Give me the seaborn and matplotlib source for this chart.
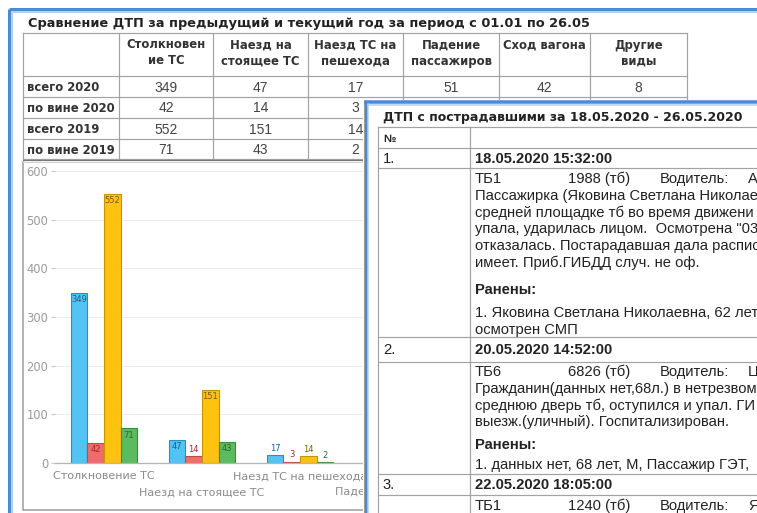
import numpy as np
import pandas as pd
import matplotlib
matplotlib.use("Agg")
import matplotlib.pyplot as plt
from matplotlib.transforms import Bbox, TransformedBbox
import seaborn as sns

# данные (то, что видно на скриншоте; закрытые окном ячейки = nan)
categories = ["Столкновение ТС", "Наезд на стоящее ТС", "Наезд ТС на пешехода",
              "Падение пассажиров", "Сход вагона", "Другие виды"]
header_labels = ["Столкновен\nие ТС", "Наезд на\nстоящее ТС", "Наезд ТС на\nпешехода",
                 "Падение\nпассажиров", "Сход вагона", "Другие\nвиды"]
series = ["всего 2020", "по вине 2020", "всего 2019", "по вине 2019"]
total_2020 = [349, 47, 17, 51, 42, 8]
fault_2020 = [42, 14, 3, np.nan, np.nan, np.nan]
total_2019 = [552, 151, 14, np.nan, np.nan, np.nan]
fault_2019 = [71, 43, 2, np.nan, np.nan, np.nan]
yticks = [0, 100, 200, 300, 400, 500, 600]

bar_colors = ["#52C3F2", "#F26B6B", "#FFC20E", "#5CBA5F"]
edge_colors = ["#2E8EC0", "#C04A4A", "#C79500", "#3A8C3E"]
label_colors = ["#1D5F8A", "#9B2D2D", "#7A5E00", "#2B6A30"]

title_left = "Сравнение ДТП за предыдущий и текущий год за период с 01.01 по 26.05"
title_right = "ДТП с пострадавшими за 18.05.2020 - 26.05.2020"

W, H = 757, 513
fig = plt.figure(figsize=(W / 100, H / 100), dpi=100)
fig.patch.set_facecolor("white")

LW = 0.72  # 1 px в пунктах
GRID = "#a3a3a3"
OV_X = 363  # левый край второго окна


def px_axes(rect_px, zorder):
    x0, y0, x1, y1 = rect_px
    a = fig.add_axes([x0 / W, 1 - y1 / H, (x1 - x0) / W, (y1 - y0) / H], zorder=zorder)
    a.set_xlim(x0, x1)
    a.set_ylim(y1, y0)
    a.set_axis_off()
    return a


# ---- окно 1: рамка, заголовок, таблица ----
bg = px_axes((0, 0, W, H), 0)
bg.plot([9, 9], [9, H], color="#4A8BD4", lw=3 * LW, solid_capstyle="butt")
bg.plot([9, W], [9, 9], color="#4A8BD4", lw=3 * LW, solid_capstyle="butt")
bg.plot([11.5, 11.5], [11.5, H], color="#B3D0EF", lw=2 * LW)
bg.plot([11.5, W], [11.5, 11.5], color="#B3D0EF", lw=2 * LW)

bg.text(28, 23, title_left, fontsize=9.3, fontweight="bold", color="#222222",
        va="center", ha="left", family="DejaVu Sans")

col_edges = [23, 119, 213, 308, 403, 499, 590, 687]
row_edges = [33, 76, 97, 118, 139, 159]
for y in row_edges:
    bg.plot([col_edges[0], col_edges[-1]], [y, y], color=GRID, lw=1.2 * LW)
bg.plot([col_edges[0], col_edges[-1]], [row_edges[-1] + 1, row_edges[-1] + 1], color="#777777", lw=1.2 * LW)
for x in col_edges:
    bg.plot([x, x], [row_edges[0], row_edges[-1]], color=GRID, lw=1.2 * LW)

for j, lab in enumerate(header_labels):
    cx = (col_edges[j + 1] + col_edges[j + 2]) / 2
    for k, line in enumerate(lab.split("\n")):
        bg.text(cx, 45 + 16 * k, line, fontsize=8.4, fontweight="bold", color="#333333",
                ha="center", va="center", family="DejaVu Sans")

table_rows = [total_2020, fault_2020, total_2019, fault_2019]
for i, (name, vals) in enumerate(zip(series, table_rows)):
    cy = (row_edges[i + 1] + row_edges[i + 2]) / 2 + 1
    bg.text(27, cy, name, fontsize=8.4, fontweight="bold", color="#333333",
            ha="left", va="center", family="DejaVu Sans")
    for j, v in enumerate(vals):
        if np.isnan(v):
            continue
        cx = (col_edges[j + 1] + col_edges[j + 2]) / 2
        bg.text(cx, cy, f"{v:.0f}", fontsize=10, color="#444444",
                ha="center", va="center", family="Liberation Sans")

# рамка блока с диаграммой
bg.plot([23, 23, 700], [162, 510, 510], color="#9a9a9a", lw=1.5 * LW)
bg.plot([23, 700], [162, 162], color="#d0d0d0", lw=1 * LW)

# ---- диаграмма ----
rows = []
for name, vals in zip(series, table_rows):
    for c, v in zip(categories, vals):
        rows.append({"вид": c, "серия": name, "кол-во": v})
df = pd.DataFrame(rows).dropna()

ax = fig.add_axes([55 / W, 1 - 463 / H, (643 - 55) / W, (463 - 171) / H], zorder=1)
ax.patch.set_alpha(0)
sns.barplot(data=df, x="вид", y="кол-во", hue="серия", order=categories, hue_order=series,
            palette=bar_colors, saturation=1, width=0.68, errorbar=None, legend=False,
            linewidth=1.1 * LW, ax=ax)

for cont, ec, lc in zip(ax.containers, edge_colors, label_colors):
    for bar in cont:
        bar.set_edgecolor(ec)
        h = bar.get_height()
        if np.isnan(h):
            continue
        inside = h >= 30
        ax.annotate(f"{h:.0f}", (bar.get_x() + bar.get_width() / 2, h),
                    xytext=(0, -1.5 if inside else 1.5), textcoords="offset points",
                    ha="center", va="top" if inside else "bottom",
                    fontsize=6, color=lc, family="DejaVu Sans")

ax.set_ylim(0, 600)
ax.set_yticks(yticks)
ax.set_xlim(-0.5, len(categories) - 0.5)
ax.set_xlabel("")
ax.set_ylabel("")
ax.yaxis.grid(True, color="#ececec", lw=1 * LW)
ax.set_axisbelow(True)
for s in ["top", "right", "left"]:
    ax.spines[s].set_visible(False)
ax.spines["bottom"].set_color("#b5b5b5")
ax.spines["bottom"].set_linewidth(1.3 * LW)
ax.tick_params(axis="y", length=3, color="#c8c8c8", pad=2, labelsize=8.3, labelcolor="#9a9a9a")
ax.tick_params(axis="x", length=0, pad=6, labelsize=8, labelcolor="#8a8a8a")
for t in ax.xaxis.get_major_ticks()[1::2]:
    t.set_pad(17.5)

# подписи под вторым окном обрезаются его левым краем
clip = TransformedBbox(Bbox.from_extents(0, 0, OV_X / W, 1), fig.transFigure)
for i, lab in enumerate(ax.get_xticklabels()):
    lab.set_clip_on(True)
    lab.set_clip_box(clip)
    if i >= 4:
        lab.set_visible(False)

# ---- окно 2 (поверх диаграммы) ----
ov = px_axes((OV_X, 100, W, H), 3)
ov.add_patch(plt.Rectangle((OV_X, 100), W - OV_X, H - 100, facecolor="white", edgecolor="none"))
ov.plot([363.8, 363.8], [101, H], color="#9a9a9a", lw=1 * LW)
ov.plot([365.8, 365.8], [101, H], color="#4A8BD4", lw=3 * LW, solid_capstyle="butt")
ov.plot([364, W], [102, 102], color="#4A8BD4", lw=3.5 * LW, solid_capstyle="butt")
ov.plot([368.5, 368.5], [104, H], color="#B3D0EF", lw=1.5 * LW)
ov.plot([368, W], [104.8, 104.8], color="#B3D0EF", lw=1.5 * LW)

ov.text(383, 117, title_right, fontsize=9, fontweight="bold", color="#222222",
        va="center", ha="left", family="DejaVu Sans")

for y in [127, 148, 168, 337, 362, 474, 495]:
    ov.plot([378, W], [y, y], color=GRID, lw=1.2 * LW)
for x in [378, 470]:
    ov.plot([x, x], [127, H], color=GRID, lw=1.2 * LW)

body = dict(fontsize=10.6, color="#222222", va="center", ha="left",
            family="Liberation Sans", clip_on=True)
bold = dict(body, fontweight="bold")

ov.text(383, 139, "№", **dict(bold, fontsize=8))
incidents = [
    ("1.", "18.05.2020 15:32:00", 159, 179, ["ТБ1", "1988 (тб)", "Водитель:", "А"],
     ["Пассажирка (Яковина Светлана Николае",
      "средней площадке тб во время движени",
      "упала, ударилась лицом.  Осмотрена \"03",
      "отказалась. Постарадавшая дала распис",
      "имеет. Приб.ГИБДД случ. не оф."], 290,
     ["1. Яковина Светлана Николаевна, 62 лет", "осмотрен СМП"], 313),
    ("2.", "20.05.2020 14:52:00", 350, 372, ["ТБ6", "6826 (тб)", "Водитель:", "Ц"],
     ["Гражданин(данных нет,68л.) в нетрезвом",
      "среднюю дверь тб, оступился и упал. ГИ",
      "выезж.(уличный). Госпитализирован."], 445,
     ["1. данных нет, 68 лет, М, Пассажир ГЭТ,"], 465),
    ("3.", "22.05.2020 18:05:00", 485, 506, ["ТБ1", "1240 (тб)", "Водитель:", "Я"], [], None, [], None),
]
step = 16.7
for num, stamp, y_head, y_first, first, lines, y_ran, injured, y_inj in incidents:
    ov.text(383, y_head, num, **body)
    ov.text(475, y_head, stamp, **bold)
    for x, part in zip([475, 568, 660, 748], first):
        ov.text(x, y_first, part, **body)
    for k, line in enumerate(lines):
        ov.text(475, y_first + step * (k + 1), line, **body)
    if y_ran is not None:
        ov.text(475, y_ran, "Ранены:", **bold)
        for k, line in enumerate(injured):
            ov.text(475, y_inj + step * k, line, **body)

fig.savefig("out.png", dpi=100)
